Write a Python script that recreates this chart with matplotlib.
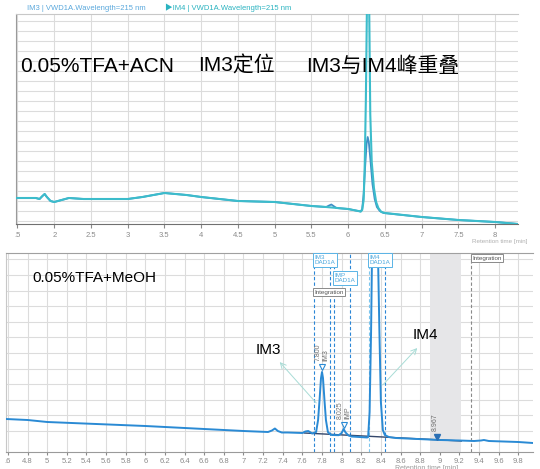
import numpy as np
import matplotlib
matplotlib.use("Agg")
import matplotlib.pyplot as plt

plt.rcParams['font.family'] = ['Liberation Sans', 'Noto Sans CJK SC', 'DejaVu Sans']

# ---- top panel: 0.05%TFA+ACN (VWD1A, 215 nm) ----
acn_x = [1.48, 1.75, 1.80, 1.84, 1.87, 1.90, 1.95, 2.00, 2.10, 2.20, 2.40, 3.00, 3.20,
         3.50, 3.80, 4.00, 4.50, 5.00, 5.50, 5.70, 6.00, 6.17, 6.19, 6.21, 6.225, 6.24,
         6.255, 6.27, 6.285, 6.30, 6.32, 6.35, 6.38, 6.41, 6.45, 6.50, 7.00, 7.50, 8.00,
         8.31]
im4_y = [26, 26, 25, 28, 30, 27, 23, 22, 24, 26, 25, 25, 27,
         31, 29, 27, 23, 22, 18, 17, 15, 12.5, 14, 24, 60, 124,
         220, 340, 220, 110, 62, 36, 22, 16, 12, 11, 7, 4, 2,
         0]
im3_x = [1.48, 1.75, 1.80, 1.84, 1.87, 1.90, 1.95, 2.00, 2.10, 2.20, 2.40, 3.00, 3.20,
         3.50, 3.80, 4.00, 4.50, 5.00, 5.50, 5.70, 5.74, 5.77, 5.80, 5.84, 6.00, 6.17,
         6.19, 6.21, 6.23, 6.25, 6.265, 6.28, 6.30, 6.33, 6.36, 6.39, 6.43, 6.48, 7.00,
         7.50, 8.00, 8.31]
im3_y = [26, 26, 25, 28, 30, 27, 23, 22, 24, 26, 25, 25, 27,
         31, 29, 27, 23, 22, 18, 17, 18.5, 19.5, 18, 16, 15, 12.5,
         15, 30, 57, 80, 87, 82, 66, 40, 25, 17, 13, 11, 7,
         4, 2, 0]
acn_ticks = [1.5, 2, 2.5, 3, 3.5, 4, 4.5, 5, 5.5, 6, 6.5, 7, 7.5, 8]
acn_ticklabels = ['.5', '2', '2.5', '3', '3.5', '4', '4.5', '5', '5.5', '6', '6.5', '7', '7.5', '8']

# ---- bottom panel: 0.05%TFA+MeOH (DAD1A) ----
meoh_x = [4.58, 4.80, 5.00, 6.00, 7.00, 7.25, 7.29, 7.32, 7.35, 7.39, 7.45, 7.60,
          7.63, 7.66, 7.70, 7.74, 7.76, 7.775, 7.79, 7.80, 7.81, 7.825, 7.84, 7.86,
          7.88, 7.90, 7.97, 8.00, 8.02, 8.04, 8.07, 8.10, 8.26, 8.27, 8.285, 8.30,
          8.31, 8.34, 8.37, 8.385, 8.40, 8.42, 8.44, 8.48, 8.55, 9.00, 9.20, 9.35,
          9.42, 9.45, 9.50, 9.80, 9.95]
meoh_y = [33, 32, 30, 26, 21, 20, 21.5, 23.5, 21, 19.5, 19.5, 19,
          20.5, 21, 18.5, 20, 32, 52, 74, 80, 74, 52, 32, 20,
          18, 17, 16.8, 19, 23, 19.5, 16.5, 15.5, 14.5, 15, 40, 120,
          200, 320, 200, 120, 50, 22, 17, 15, 14, 12, 11.5, 11,
          11.5, 12, 11, 10, 9]
integ_x = [7.62, 9.22]
integ_y = [19, 11]
window_lines = [7.72, 7.885, 7.925, 8.085, 8.44]
im4_window_left = 8.28
integ_event = 9.32
band = (8.9, 9.22)
peaks_rt = [7.800, 8.025]
peaks_name = ['IM3', 'IMP']
peaks_mark_y = [85, 27]
marker_rt = 8.967
marker_y = 15
meoh_ticks = [4.6, 4.8, 5.0, 5.2, 5.4, 5.6, 5.8, 6.0, 6.2, 6.4, 6.6, 6.8, 7.0, 7.2,
              7.4, 7.6, 7.8, 8.0, 8.2, 8.4, 8.6, 8.8, 9.0, 9.2, 9.4, 9.6, 9.8]
meoh_ticklabels = ['.6', '4.8', '5', '5.2', '5.4', '5.6', '5.8', '6', '6.2', '6.4', '6.6',
                   '6.8', '7', '7.2', '7.4', '7.6', '7.8', '8', '8.2', '8.4', '8.6', '8.8',
                   '9', '9.2', '9.4', '9.6', '9.8']

grid_c = '#dcdcdc'
tick_c = '#8a8a8a'

fig = plt.figure(figsize=(5.40, 4.69), dpi=100)

# top axes
ax1 = fig.add_axes([16/540, 1 - 224/469, (518 - 16)/540, (224 - 14)/469])
ax1.plot(im3_x, im3_y, color='#3f8fc6', lw=1.3, zorder=3)
ax1.plot(acn_x, im4_y, color='#3cbccb', lw=1.5, zorder=4)
ax1.set_xlim(1.48, 8.31)
ax1.set_ylim(0, 210)
ax1.set_xticks(acn_ticks)
ax1.set_xticklabels(acn_ticklabels)
ax1.set_yticks(np.arange(3.3, 210, 10))
ax1.set_yticklabels([])
ax1.tick_params(axis='x', colors=tick_c, labelsize=5.5, length=3, pad=3)
ax1.tick_params(axis='y', length=0)
ax1.grid(True, color=grid_c, lw=0.8)
ax1.set_axisbelow(True)
ax1.spines['right'].set_visible(False)
ax1.spines['top'].set_color('#c8c8c8')
ax1.spines['left'].set_color('#9a9a9a')
ax1.spines['bottom'].set_color('#707070')

fig.text(27/540, 1 - 8/469, 'IM3 | VWD1A.Wavelength=215 nm', color='#5aa8dc',
         fontsize=5.5, va='center', ha='left')
fig.text(165/540, 1 - 8/469, '▶IM4 | VWD1A.Wavelength=215 nm', color='#2ab3c0',
         fontsize=5.5, va='center', ha='left')
fig.text(20/540, 1 - 66/469, '0.05%TFA+ACN', fontsize=15, va='center', ha='left')
fig.text(198/540, 1 - 66/469, 'IM3定位', fontsize=15, va='center', ha='left')
fig.text(306/540, 1 - 66/469, 'IM3与IM4峰重叠', fontsize=15, va='center', ha='left')
fig.text(500/540, 1 - 241/469, 'Retention time [min]', fontsize=4.5, color='#b0b0b0',
         va='center', ha='center')

# bottom axes
ax2 = fig.add_axes([6/540, 1 - 452/469, (533 - 6)/540, (452 - 253)/469])
ax2.axvspan(band[0], band[1], color='#e6e6e8', lw=0, zorder=1)
for xv in window_lines:
    ax2.axvline(xv, color='#2b86d6', lw=0.8, ls=(0, (3, 2)), zorder=2)
ax2.axvline(im4_window_left, color='#7cc6ee', lw=0.8, ls=(0, (3, 2)), zorder=2)
ax2.axvline(integ_event, color='#8a8a8a', lw=0.8, ls=(0, (3, 2)), zorder=2)
ax2.plot(integ_x, integ_y, color='#34476b', lw=1.0, zorder=3)
ax2.plot(meoh_x, meoh_y, color='#2a8ad4', lw=1.4, zorder=4)
ax2.set_xlim(4.58, 9.95)
ax2.set_ylim(0, 199)
ax2.set_xticks(meoh_ticks)
ax2.set_xticklabels(meoh_ticklabels)
ax2.set_yticks(np.arange(21, 199, 15.6))
ax2.set_yticklabels([])
ax2.tick_params(axis='x', colors=tick_c, labelsize=5.5, length=2.5, pad=1.5)
ax2.tick_params(axis='y', length=0)
ax2.grid(True, color=grid_c, lw=0.8)
ax2.set_axisbelow(True)
ax2.spines['right'].set_visible(False)
ax2.spines['top'].set_color('#a0a0a0')
ax2.spines['left'].set_color('#c8c8c8')
ax2.spines['bottom'].set_color('#9a9a9a')

# peak labels
for rt, name, ym in zip(peaks_rt, peaks_name, peaks_mark_y):
    ax2.plot(rt, ym, marker='v', ms=4, mfc='white', mec='#2a8ad4', mew=0.8, zorder=5)
    ax2.annotate(f'{rt:.3f}', (rt, ym), xytext=(-3, 4), textcoords='offset points',
                 rotation=90, fontsize=5, color='#707070', ha='center', va='bottom')
    ax2.annotate(name, (rt, ym), xytext=(3, 4), textcoords='offset points',
                 rotation=90, fontsize=5, color='#707070', ha='center', va='bottom')
ax2.plot(marker_rt, marker_y, marker='v', ms=4, color='#2a6fb4', zorder=5)
ax2.annotate(f'{marker_rt:.3f}', (marker_rt, marker_y), xytext=(-1, 4),
             textcoords='offset points', rotation=90, fontsize=5, color='#707070',
             ha='center', va='bottom')

# window boxes
box_style = dict(boxstyle='square,pad=0.25', fc='white', ec='#5ab4e6', lw=0.7)
ax2.text(7.725, 197, 'IM3\nDAD1A', fontsize=4.5, color='#4aa6dc', ha='left', va='top',
         linespacing=1.0, bbox=box_style, zorder=6)
ax2.text(7.93, 179, 'IMP\nDAD1A', fontsize=4.5, color='#4aa6dc', ha='left', va='top',
         linespacing=1.0, bbox=box_style, zorder=6)
ax2.text(8.285, 197, 'IM4\nDAD1A', fontsize=4.5, color='#4aa6dc', ha='left', va='top',
         linespacing=1.0, bbox=box_style, zorder=6)
gray_box = dict(boxstyle='square,pad=0.2', fc='white', ec='#8a8a8a', lw=0.7)
ax2.text(7.725, 160, 'Integration', fontsize=4.5, color='#555555', ha='left', va='center',
         bbox=gray_box, zorder=6)
ax2.text(9.33, 194, 'Integration', fontsize=4.5, color='#555555', ha='left', va='center',
         bbox=gray_box, zorder=6)

# big annotations
ax2.annotate('', xy=(7.35, 92), xytext=(7.76, 47),
             arrowprops=dict(arrowstyle='->', color='#a8dcd6', lw=0.7), zorder=6)
ax2.text(7.25, 102, 'IM3', fontsize=11, ha='center', va='center', zorder=7)
ax2.annotate('', xy=(8.79, 106), xytext=(8.40, 65),
             arrowprops=dict(arrowstyle='->', color='#a8dcd6', lw=0.7), zorder=6)
ax2.text(8.85, 117, 'IM4', fontsize=11, ha='center', va='center', zorder=7)

fig.text(32/540, 1 - 278/469, '0.05%TFA+MeOH', fontsize=11, va='center', ha='left')
fig.text(427/540, 1 - 464.5/469, 'Retention time [min]', fontsize=5, color='#9a9a9a',
         va='top', ha='center')

fig.savefig('out.png', dpi=100)
